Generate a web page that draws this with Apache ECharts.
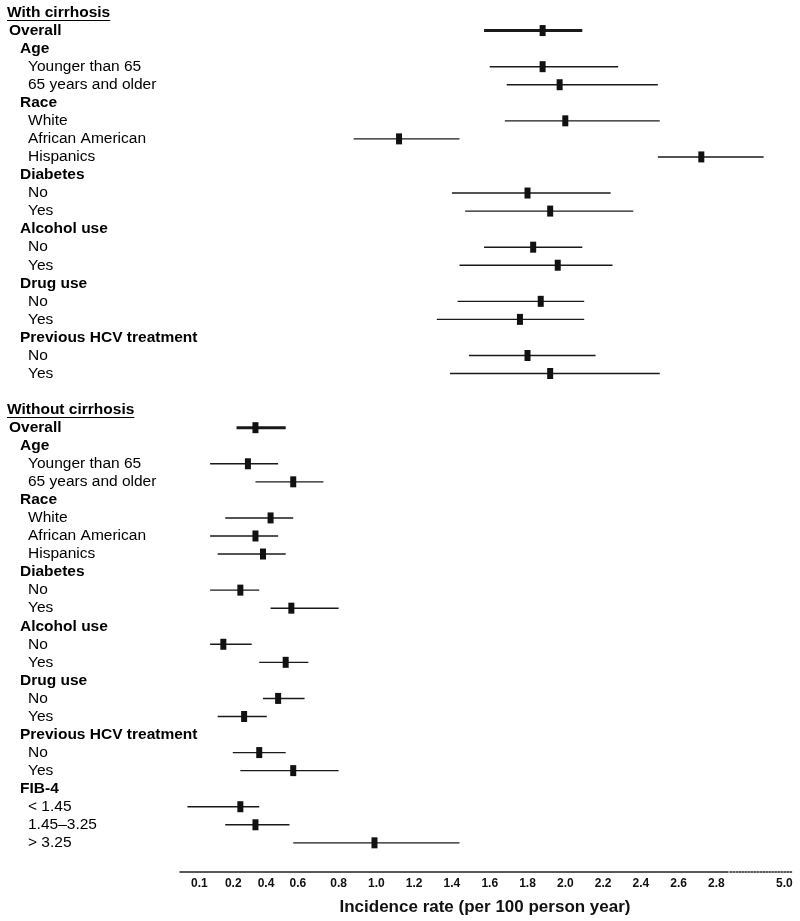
<!DOCTYPE html>
<html>
<head>
<meta charset="utf-8">
<script src="https://cdn.jsdelivr.net/npm/echarts@6/dist/echarts.min.js"></script>
<style>
html,body{margin:0;padding:0;background:#fff;}
#chart{width:800px;height:921px;}
</style>
</head>
<body>
<div id="chart"></div>
<script>
// ---------- data ----------
const rowLabels = [
  'With cirrhosis','Overall','Age','Younger than 65','65 years and older',
  'Race','White','African American','Hispanics',
  'Diabetes','No','Yes','Alcohol use','No','Yes','Drug use','No','Yes',
  'Previous HCV treatment','No','Yes','',
  'Without cirrhosis','Overall','Age','Younger than 65','65 years and older',
  'Race','White','African American','Hispanics',
  'Diabetes','No','Yes','Alcohol use','No','Yes','Drug use','No','Yes',
  'Previous HCV treatment','No','Yes','FIB-4','< 1.45','1.45\u20133.25','> 3.25'
];
const rowLevel = [
  'section','overall','group','sub','sub',
  'group','sub','sub','sub',
  'group','sub','sub','group','sub','sub','group','sub','sub',
  'group','sub','sub','blank',
  'section','overall','group','sub','sub',
  'group','sub','sub','sub',
  'group','sub','sub','group','sub','sub','group','sub','sub',
  'group','sub','sub','group','sub','sub','sub'
];
const estimate = [
  null,1.88,null,1.88,1.97,
  null,2.00,1.12,2.72,
  null,1.80,1.92,null,1.83,1.96,null,1.87,1.76,
  null,1.80,1.92,null,
  null,0.36,null,0.32,0.56,
  null,0.44,0.36,0.40,
  null,0.28,0.55,null,0.19,0.52,null,0.48,0.30,
  null,0.38,0.56,null,0.28,0.36,0.99
];
const lower = [
  null,1.57,null,1.60,1.69,
  null,1.68,0.88,2.49,
  null,1.40,1.47,null,1.57,1.44,null,1.43,1.32,
  null,1.49,1.39,null,
  null,0.26,null,0.12,0.36,
  null,0.20,0.12,0.16,
  null,0.12,0.44,null,0.12,0.38,null,0.40,0.16,
  null,0.24,0.28,null,0.00,0.20,0.56
];
const upper = [
  null,2.09,null,2.28,2.49,
  null,2.50,1.44,3.05,
  null,2.24,2.36,null,2.09,2.25,null,2.10,2.10,
  null,2.16,2.50,null,
  null,0.52,null,0.48,0.72,
  null,0.56,0.48,0.52,
  null,0.38,0.80,null,0.34,0.64,null,0.62,0.42,
  null,0.52,0.80,null,0.38,0.54,1.44
];
const tickValues = [0.1,0.2,0.4,0.6,0.8,1.0,1.2,1.4,1.6,1.8,2.0,2.2,2.4,2.6,2.8,3.16];
const tickLabels = ['0.1','0.2','0.4','0.6','0.8','1.0','1.2','1.4','1.6','1.8','2.0','2.2','2.4','2.6','2.8','5.0'];
const axisTitle = 'Incidence rate (per 100 person year)';

// ---------- chart ----------
const FONT = "'Liberation Sans', Arial, Helvetica, sans-serif";
const chart = echarts.init(document.getElementById('chart'), null, {renderer:'canvas'});

const seriesData = [];
rowLabels.forEach((lab, i) => {
  if (estimate[i] != null) seriesData.push([i, lower[i], estimate[i], upper[i]]);
});

const GRID_LEFT = 178, GRID_TOP = 3.5, ROW_H = 18.05;
const GRID_H = ROW_H * rowLabels.length;
const GRID_BOTTOM = 921 - GRID_TOP - GRID_H;
const AXIS_OFFSET = 20;

// small visual nudges of crowded tick labels (style only)
const tickNudge = {'0.1': [0,14,0,0], '0.2': [0,0,0,16], '0.4': [0,0,0,6], '0.6': [0,6,0,0]};
const tickRich = {t: {fontSize: 12, fontWeight: 'bold', color: '#111', fontFamily: FONT}};
Object.keys(tickNudge).forEach((k, i) => {
  tickRich['n' + i] = {fontSize: 12, fontWeight: 'bold', color: '#111', fontFamily: FONT, padding: tickNudge[k]};
});
const nudgeKeys = Object.keys(tickNudge);

const option = {
  animation: false,
  backgroundColor: '#fff',
  textStyle: {fontFamily: FONT},
  grid: [
    {left: GRID_LEFT, right: 8, top: GRID_TOP, bottom: GRID_BOTTOM},
    {left: GRID_LEFT + 2, width: 548, top: GRID_TOP, bottom: GRID_BOTTOM},
    {left: 730, right: 7, top: GRID_TOP, bottom: GRID_BOTTOM}
  ],
  xAxis: [
    {
      gridIndex: 0, type: 'value', min: -0.05, max: 3.2,
      offset: AXIS_OFFSET,
      axisLine: {show: false, onZero: false}, axisTick: {show: false}, splitLine: {show: false},
      axisLabel: {
        customValues: tickValues,
        margin: 6,
        fontSize: 12, fontWeight: 'bold', color: '#111', fontFamily: FONT,
        formatter: (v) => {
          const k = tickValues.findIndex(t => Math.abs(t - v) < 1e-6);
          if (k < 0) return '';
          const lab = tickLabels[k];
          const n = nudgeKeys.indexOf(lab);
          return n >= 0 ? '{n' + n + '|' + lab + '}' : '{t|' + lab + '}';
        },
        rich: tickRich
      },
      name: axisTitle, nameLocation: 'middle', nameGap: 27,
      nameTextStyle: {fontSize: 17, fontWeight: 'bold', color: '#111', fontFamily: FONT}
    },
    {
      gridIndex: 1, type: 'value', min: 0, max: 1, offset: AXIS_OFFSET,
      axisLine: {show: true, onZero: false, lineStyle: {color: '#222', width: 1.5}},
      axisTick: {show: false}, axisLabel: {show: false}, splitLine: {show: false}
    },
    {
      gridIndex: 2, type: 'value', min: 0, max: 1, offset: AXIS_OFFSET,
      axisLine: {show: true, onZero: false, lineStyle: {color: '#222', width: 1.5, type: [1.5, 1.5]}},
      axisTick: {show: false}, axisLabel: {show: false}, splitLine: {show: false}
    }
  ],
  yAxis: [
    {
      gridIndex: 0, type: 'category', inverse: true, data: rowLabels,
      axisLine: {show: false}, axisTick: {show: false}, splitLine: {show: false},
      axisLabel: {
        interval: 0, align: 'left', margin: GRID_LEFT - 7,
        fontSize: 15.5, color: '#000', fontFamily: FONT,
        formatter: (value, idx) => {
          const lv = rowLevel[idx];
          if (!value || lv === 'blank') return '';
          return '{' + lv + '|' + value + '}';
        },
        rich: {
          section: {fontSize: 15.5, fontWeight: 'bold', color: '#000', fontFamily: FONT, padding: [0,0,0,0]},
          overall: {fontSize: 15.5, fontWeight: 'bold', color: '#000', fontFamily: FONT, padding: [0,0,0,2]},
          group: {fontSize: 15.5, fontWeight: 'bold', color: '#000', fontFamily: FONT, padding: [0,0,0,13]},
          sub: {fontSize: 15.5, color: '#000', fontFamily: FONT, padding: [0,0,0,21]}
        }
      }
    },
    {gridIndex: 1, type: 'value', show: false},
    {gridIndex: 2, type: 'value', show: false}
  ],
  series: [{
    type: 'custom',
    xAxisIndex: 0, yAxisIndex: 0,
    encode: {x: [1, 2, 3], y: 0},
    data: seriesData,
    renderItem: function (params, api) {
      const row = api.value(0);
      const pLo = api.coord([api.value(1), row]);
      const pEst = api.coord([api.value(2), row]);
      const pHi = api.coord([api.value(3), row]);
      const isOverall = rowLevel[row] === 'overall';
      return {
        type: 'group',
        children: [
          {type: 'line', shape: {x1: pLo[0], y1: pLo[1], x2: pHi[0], y2: pHi[1]},
           style: {stroke: '#1a1a1a', lineWidth: isOverall ? 3 : 1.4}},
          {type: 'rect', shape: {x: pEst[0] - 3, y: pEst[1] - 5.5, width: 6, height: 11},
           style: {fill: '#111'}}
        ]
      };
    }
  }]
};
chart.setOption(option);

// underline the section headers
(function () {
  const ctx = document.createElement('canvas').getContext('2d');
  ctx.font = 'bold 15.5px ' + FONT;
  const lines = [];
  rowLevel.forEach((lv, i) => {
    if (lv !== 'section') return;
    const y = chart.convertToPixel({yAxisIndex: 0}, i);
    const w = ctx.measureText(rowLabels[i]).width;
    lines.push({
      type: 'line', silent: true,
      shape: {x1: 7, y1: Math.round(y + 7) + 0.5, x2: 7 + w, y2: Math.round(y + 7) + 0.5},
      style: {stroke: '#000', lineWidth: 1.2}
    });
  });
  chart.setOption({graphic: lines});
})();
</script>
</body>
</html>
